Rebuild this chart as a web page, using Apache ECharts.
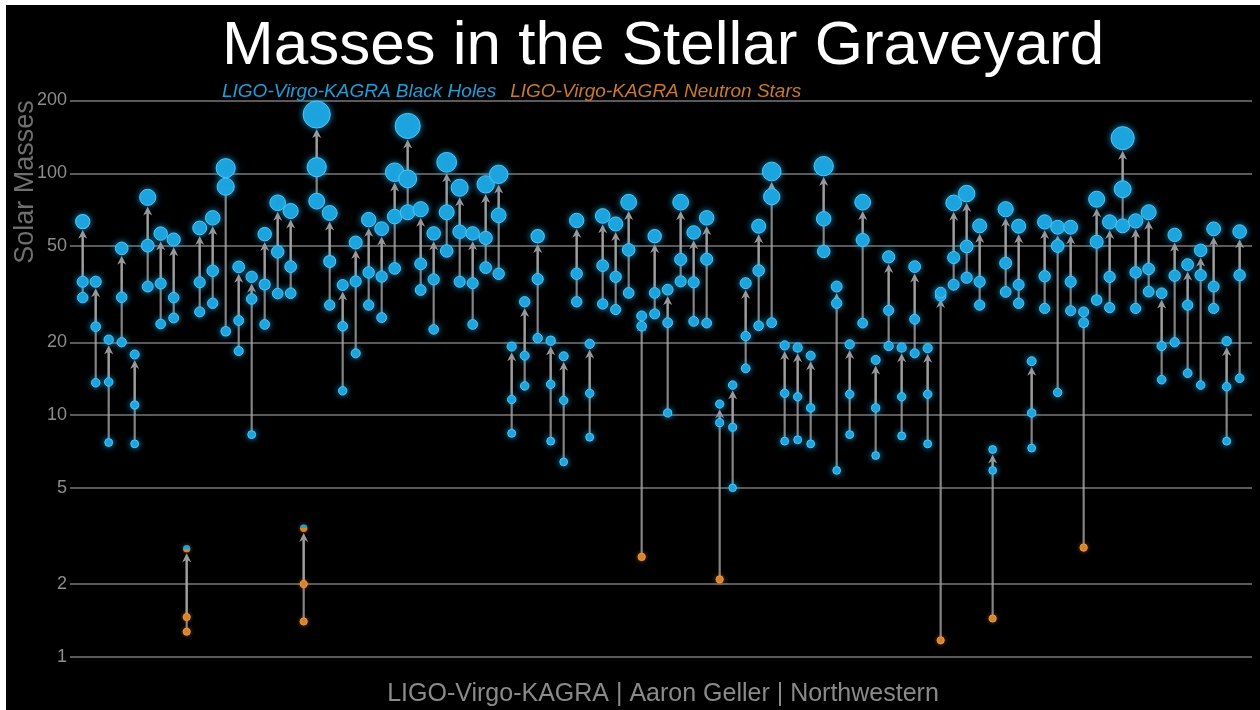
<!DOCTYPE html>
<html><head><meta charset="utf-8">
<script src="https://cdn.jsdelivr.net/npm/echarts@6/dist/echarts.min.js"></script>
<style>
html,body{margin:0;padding:0;background:#fff;width:1260px;height:710px;overflow:hidden}
#c{position:absolute;left:6px;top:5px;width:1254px;height:705px;background:#000}
</style>
</head><body><div id="c"></div>
<script>
// ---- data (solar masses), one entry per merger event, left to right ----
var finalMass = [63.1,35.6,20.5,48.9,17.8,79.5,56.3,53.2,2.8,59.4,65.4,105,41.0,37.3,56.0,75.5,69.8,3.4,175,68.5,
  34.5,51.7,64.3,59.0,101,157,71,56.4,111,87.1,56.4,90,99,19.2,29.4,54.9,20.3,17.5,63.8,19.7,
  66.6,61.7,75.9,25.7,54.9,33.0,75.9,56.9,65.4,11.1,13.3,35.1,60.4,101.7,19.4,19.0,17.6,107,34.0,19.6,
  75.9,16.9,45.1,19.0,41.1,18.9,32.1,75.4,82.4,60.6,7.2,71,60.4,16.7,62.9,59.8,59.8,26.7,78.1,62.9,
  139.7,63.5,69,31.9,55.6,41.9,48.0,58.9,20.2,57.4];
var primaryMass = [35.6,23.2,13.7,30.7,11.0,50.2,35.0,30.6,1.46,35.4,39.5,88,24.6,30.2,34.7,47.3,41.1,2.0,106,43.2,
  23.3,35.7,38.9,37.4,66.2,94.8,42.2,36.4,69,57.3,35.1,54.0,67,11.6,17.6,36.5,13.4,11.5,38.4,12.3,
  41.5,37.3,48.2,23.3,32.0,24.1,44.0,35.4,44.1,9.3,8.9,21.2,39.6,80.0,12.3,11.9,10.7,64.8,29.0,12.2,
  53.0,10.7,27.1,11.9,24.9,12.2,31.1,44.8,49.8,35.6,5.9,42.5,34.6,10.2,37.5,50.0,35.6,24.1,52.1,37.3,
  85.9,38.9,40.2,19.3,37.7,28.5,37.9,34.0,13.1,37.9];
var secondaryMass = [30.6,13.6,7.7,20.0,7.6,34.0,23.8,25.2,1.27,26.7,29.0,22.2,18.4,8.3,23.7,31.8,31.9,1.4,76.7,28.5,
  12.6,18.0,28.5,25.3,40.4,69,32.9,22.6,47.7,35.6,23.7,40.7,38.4,8.4,13.2,20.8,7.8,6.4,29.4,8.1,
  28.8,27.3,32.0,2.59,26.2,10.2,35.7,24.4,24.0,2.09,5.0,15.6,23.4,24.1,7.8,7.9,7.6,47.5,5.9,8.3,
  24.0,6.8,19.3,8.2,18.0,7.6,1.17,34.6,37.0,28.5,1.44,32.3,29.0,7.3,27.6,12.4,27.0,2.83,29.9,27.8,
  60.6,27.6,32.4,14.0,20.0,14.9,13.3,27.6,7.8,14.2];
// events whose components are neutron stars (index into the arrays above)
var nsPrimaryEvents = [8,17];
var nsSecondaryEvents = [8,17,43,49,66,70,77];
var nsRemnantEvents = [8,17];   // remnant drawn half blue / half orange
// tick labels
var yTicks = [1,2,5,10,20,50,100,200];
var seriesNames = ['LIGO-Virgo-KAGRA Black Holes','LIGO-Virgo-KAGRA Neutron Stars'];

var BLUE = '#1ca4de', BLUE_EDGE = '#50c8f4', ORANGE = '#d8822c', ORANGE_EDGE = '#e99a4c';
var FONT = 'Liberation Sans, Arial, sans-serif';
function markerSize(m){ return 7 + 0.115 * m; }

var bhData = [], nsData = [], arrowData = [];
for (var i = 0; i < finalMass.length; i++) {
  arrowData.push([i, primaryMass[i], secondaryMass[i], finalMass[i]]);
  (nsSecondaryEvents.indexOf(i) >= 0 ? nsData : bhData).push([i, secondaryMass[i]]);
  (nsPrimaryEvents.indexOf(i) >= 0 ? nsData : bhData).push([i, primaryMass[i]]);
  if (nsRemnantEvents.indexOf(i) >= 0) {
    nsData.push({value:[i, finalMass[i]], itemStyle:{
      color:{type:'linear',x:0,y:0,x2:0,y2:1,colorStops:[{offset:0,color:BLUE},{offset:0.5,color:BLUE},{offset:0.5,color:ORANGE},{offset:1,color:ORANGE}]},
      borderColor:'rgba(0,0,0,0)'}});
  } else {
    bhData.push([i, finalMass[i]]);
  }
}

var chart = echarts.init(document.getElementById('c'), null, {renderer:'canvas'});
chart.setOption({
  backgroundColor:'#000',
  animation:false,
  title:{
    text:'Masses in the Stellar Graveyard',
    left:216, top:11, padding:0,
    textStyle:{color:'#fff', fontSize:62, fontWeight:'normal', fontFamily:FONT}
  },
  legend:{
    left:206, top:72, icon:'none', itemWidth:0, itemHeight:0, itemGap:9,
    selectedMode:false,
    data:[
      {name:seriesNames[0], textStyle:{color:'#1d9fd8'}},
      {name:seriesNames[1], textStyle:{color:'#c97a2c'}}
    ],
    textStyle:{fontSize:19, fontStyle:'italic', fontFamily:FONT}
  },
  graphic:[
    {type:'text', x:20, y:177, rotation:Math.PI/2,
      style:{text:'Solar Masses', fill:'#6f6f6f', font:'27px '+FONT, align:'center', verticalAlign:'middle'}},
    {type:'text', x:657, y:689,
      style:{text:'LIGO-Virgo-KAGRA | Aaron Geller | Northwestern', fill:'#8a8a8a', font:'25px '+FONT, align:'center', verticalAlign:'middle'}}
  ],
  grid:{left:64, right:8, top:95.5, bottom:53.2},
  xAxis:{type:'value', min:-0.977, max:89.95, show:false},
  yAxis:{
    type:'log', logBase:10, min:1, max:200,
    axisLine:{show:false},
    axisTick:{show:false, customValues:yTicks},
    axisLabel:{customValues:yTicks, color:'#8c8c8c', fontSize:18, fontFamily:FONT, margin:3},
    splitLine:{show:true, lineStyle:{color:'#5a5a5a', width:2}}
  },
  series:[
    {
      type:'custom', name:'arrows', z:1, silent:true, clip:false,
      data:arrowData,
      renderItem:function(params, api){
        var x = api.value(0), f = api.value(3);
        var pf = api.coord([x, f]);
        var r = markerSize(f)/2;
        var tipY = pf[1] + r + 1, headH = 9, headW = 9;
        var baseY = tipY + headH, notchY = tipY + headH*0.7;
        var kids = [];
        [api.value(2), api.value(1)].forEach(function(m){
          var p = api.coord([x, m]);
          if (p[1] > notchY) kids.push({type:'line', shape:{x1:p[0], y1:p[1], x2:pf[0], y2:notchY},
            style:{stroke:'rgba(165,165,165,0.8)', lineWidth:2.2}});
        });
        kids.push({type:'polygon', shape:{points:[[pf[0],tipY],[pf[0]-headW/2,baseY],[pf[0],notchY],[pf[0]+headW/2,baseY]]},
          style:{fill:'#a09a9a'}});
        return {type:'group', children:kids};
      }
    },
    {
      type:'scatter', name:seriesNames[0], z:2, clip:false,
      data:bhData,
      symbolSize:function(v){ return markerSize(v[1]); },
      itemStyle:{color:BLUE, borderColor:BLUE_EDGE, borderWidth:1, shadowBlur:7, shadowColor:'rgba(40,175,240,0.7)', opacity:1},
      emphasis:{disabled:true}
    },
    {
      type:'scatter', name:seriesNames[1], z:3, clip:false,
      data:nsData,
      symbolSize:function(v){ return markerSize(v[1]); },
      itemStyle:{color:ORANGE, borderColor:ORANGE_EDGE, borderWidth:1, shadowBlur:4, shadowColor:'rgba(230,140,50,0.5)', opacity:1},
      emphasis:{disabled:true}
    }
  ]
});
</script></body></html>
